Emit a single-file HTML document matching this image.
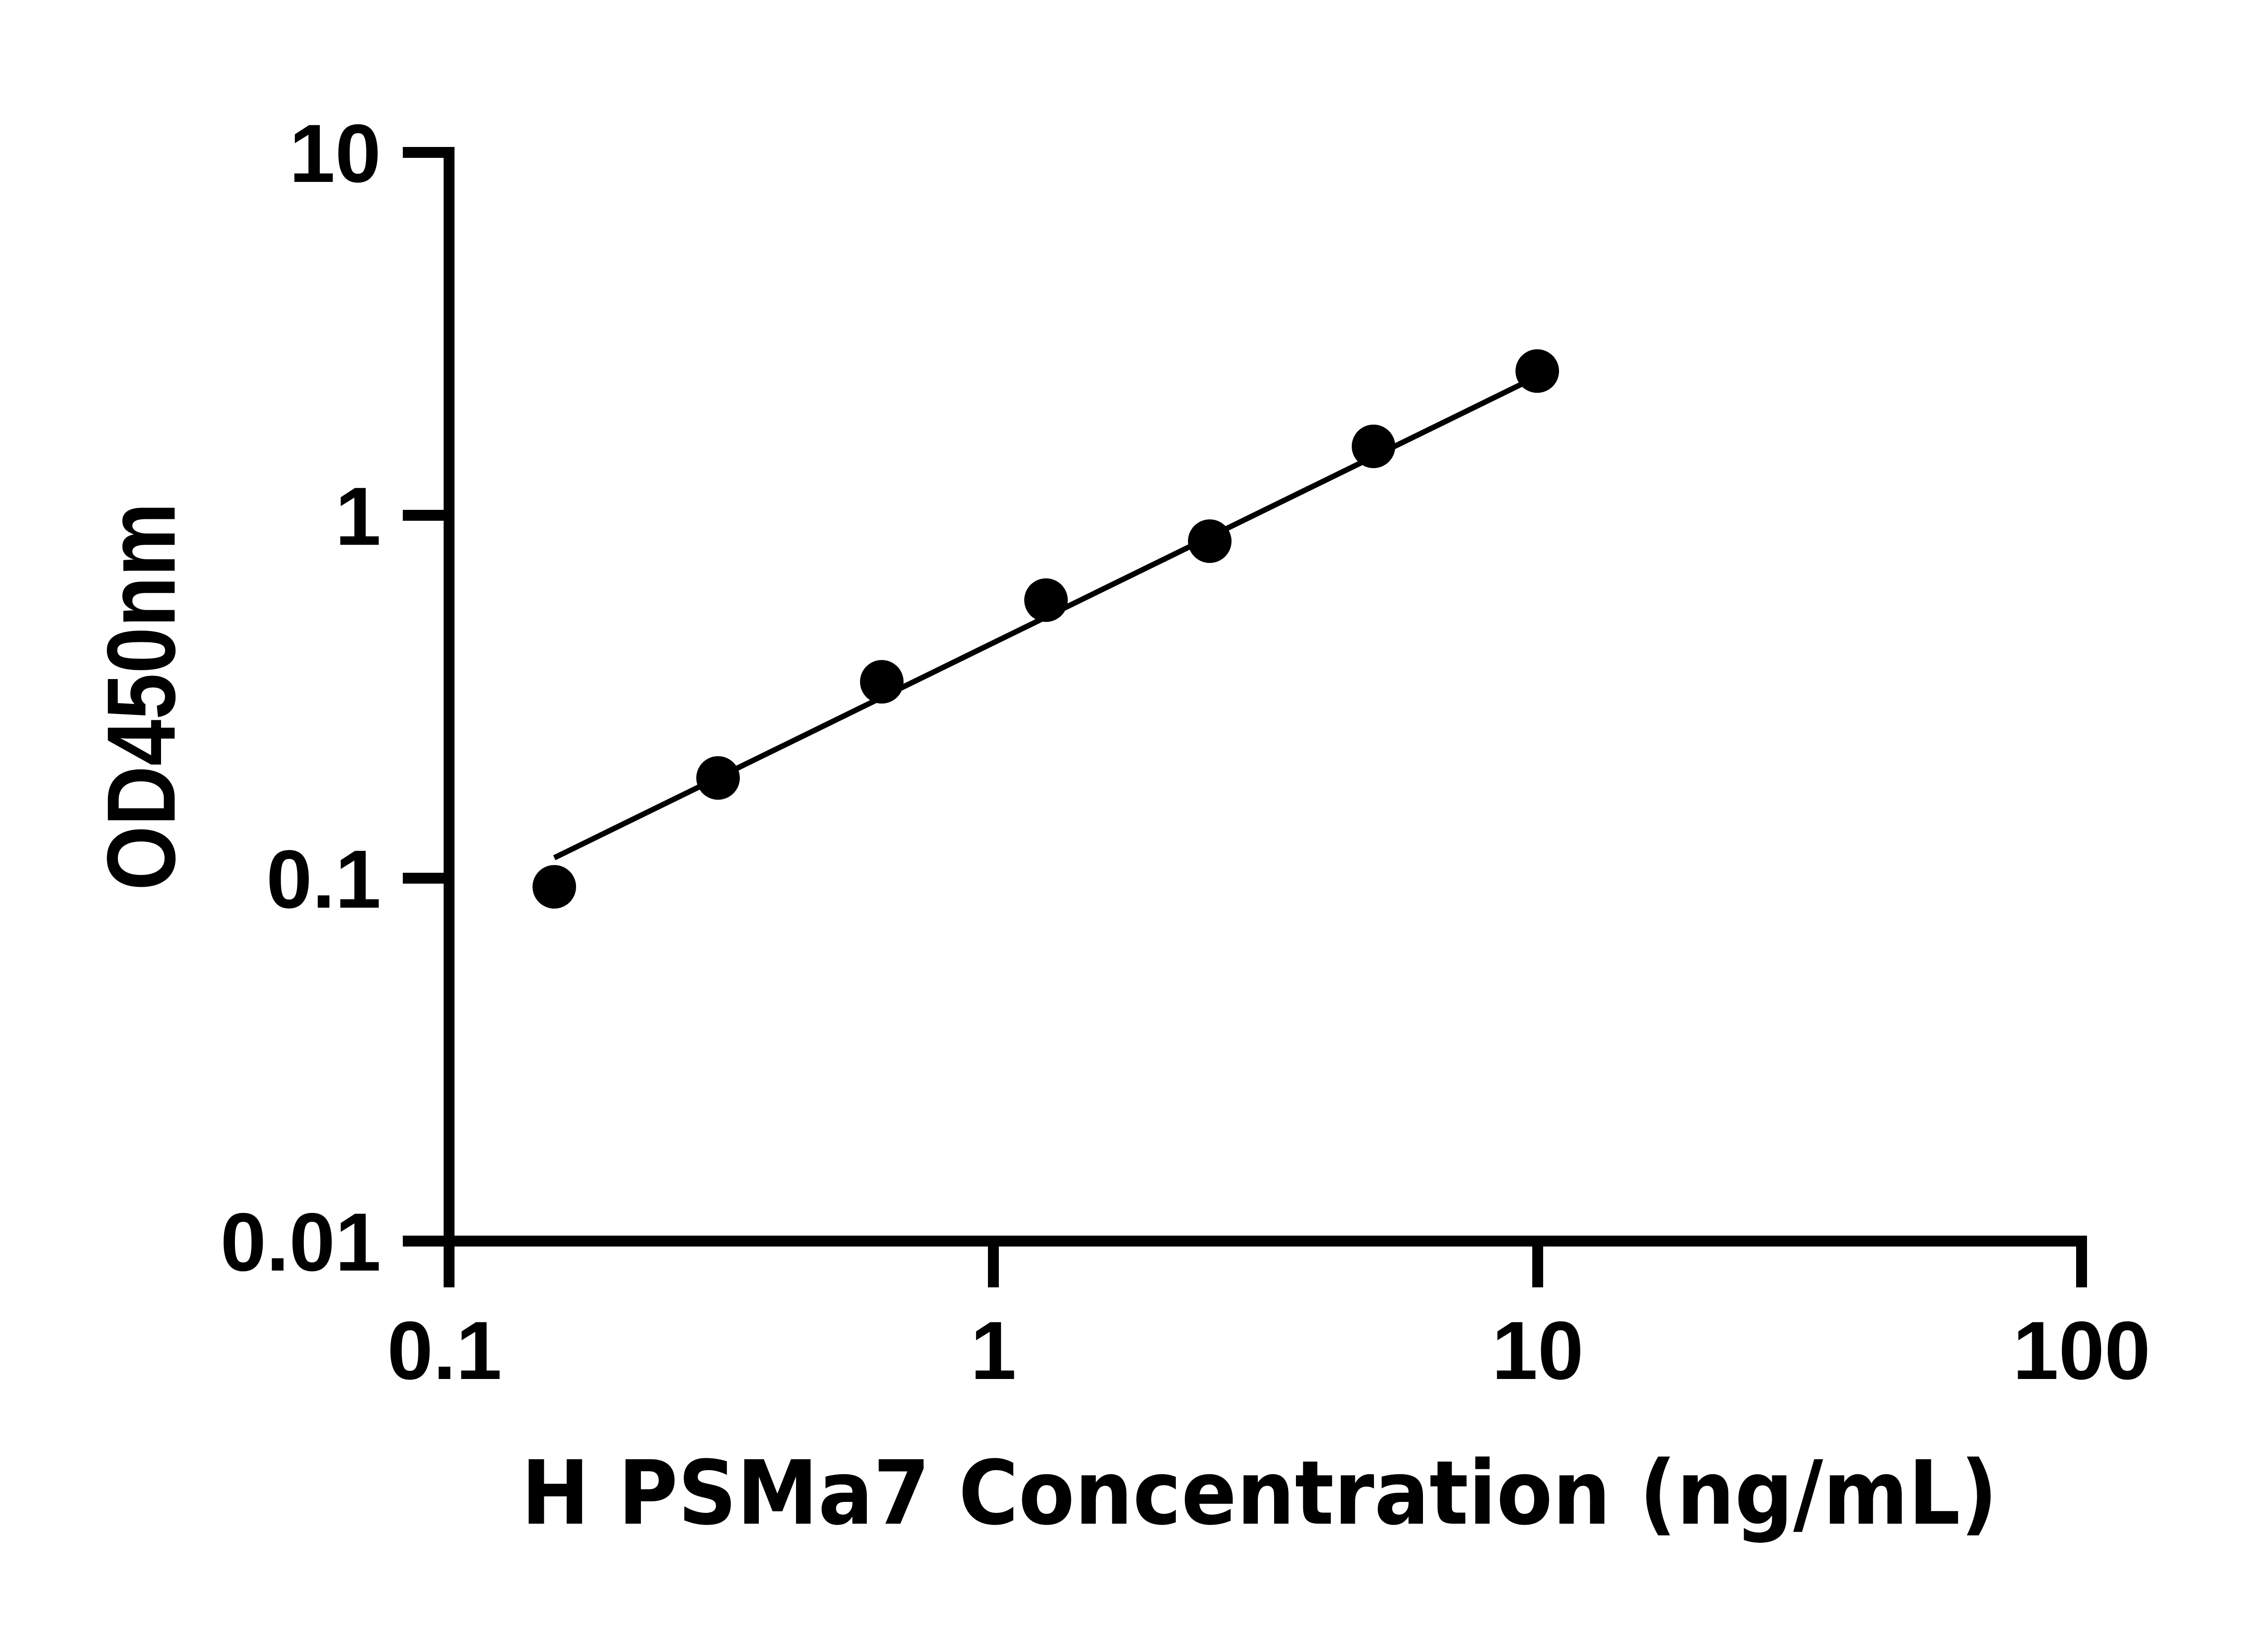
<!DOCTYPE html>
<html><head><meta charset="utf-8"><style>html,body{margin:0;padding:0;background:#fff}svg{display:block}</style></head>
<body>
<svg width="5142" height="3600" viewBox="0 0 5142 3600" xmlns="http://www.w3.org/2000/svg">
<rect width="5142" height="3600" fill="#fff"/>
<g stroke="#000" stroke-width="24" fill="none">
<line x1="990" y1="324" x2="990" y2="2748"/>
<line x1="978" y1="2736" x2="4601" y2="2736"/>
<line x1="888" y1="336" x2="1002" y2="336"/>
<line x1="888" y1="1136" x2="1002" y2="1136"/>
<line x1="888" y1="1936" x2="1002" y2="1936"/>
<line x1="888" y1="2736" x2="1002" y2="2736"/>
<line x1="990" y1="2736" x2="990" y2="2838"/>
<line x1="2190" y1="2736" x2="2190" y2="2838"/>
<line x1="3390" y1="2736" x2="3390" y2="2838"/>
<line x1="4589" y1="2724" x2="4589" y2="2838"/>
</g>
<g font-family="'Liberation Sans', Arial, sans-serif" font-weight="bold" font-size="182" fill="#000">
<text x="840" y="401" text-anchor="end">10</text>
<text x="840" y="1201" text-anchor="end">1</text>
<text x="840" y="2001" text-anchor="end">0.1</text>
<text x="840" y="2801" text-anchor="end">0.01</text>
<text x="980" y="3040" text-anchor="middle">0.1</text>
<text x="2190" y="3040" text-anchor="middle">1</text>
<text x="3390" y="3040" text-anchor="middle">10</text>
<text x="4589" y="3040" text-anchor="middle">100</text>
<text transform="translate(385,1963) rotate(-90)" font-size="214" textLength="855" lengthAdjust="spacingAndGlyphs">OD450nm</text>
</g>
<text x="1149" y="3359" font-family="'DejaVu Sans', sans-serif" font-weight="bold" font-size="195" textLength="3255" lengthAdjust="spacingAndGlyphs">H PSMa7 Concentration (ng/mL)</text>
<line x1="1222" y1="1891" x2="3389" y2="830" stroke="#000" stroke-width="12"/>
<g fill="#000">
<circle cx="1222" cy="1955" r="48"/>
<circle cx="1583" cy="1715" r="48"/>
<circle cx="1944" cy="1503" r="48"/>
<circle cx="2306" cy="1323" r="48"/>
<circle cx="2667" cy="1193" r="48"/>
<circle cx="3028" cy="984" r="48"/>
<circle cx="3389" cy="818" r="48"/>
</g>
</svg>
</body></html>
